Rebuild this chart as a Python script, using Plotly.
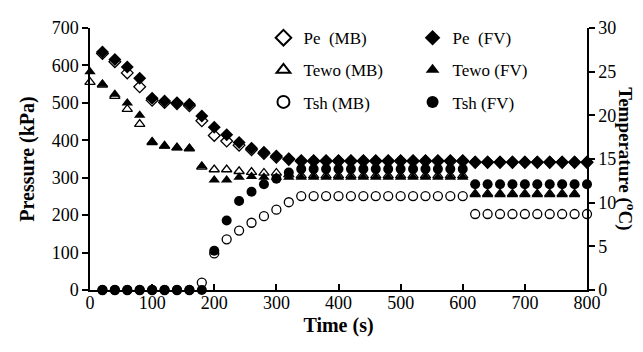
import plotly.graph_objects as go

# ---- data ----
t_from0 = [0, 20, 40, 60, 80, 100, 120, 140, 160, 180, 200, 220, 240, 260, 280, 300, 320, 340, 360, 380,
           400, 420, 440, 460, 480, 500, 520, 540, 560, 580, 600, 620, 640, 660, 680, 700, 720, 740, 760, 780]
t_from20 = [20, 40, 60, 80, 100, 120, 140, 160, 180, 200, 220, 240, 260, 280, 300, 320, 340, 360, 380, 400,
            420, 440, 460, 480, 500, 520, 540, 560, 580, 600, 620, 640, 660, 680, 700, 720, 740, 760, 780, 800]

pe_mb = [632, 610, 580, 543, 507, 501, 498, 492, 452, 413, 398, 387, 375, 365, 355, 349,
         344, 344, 344, 344, 344, 344, 344, 344, 344, 344, 344, 344, 344, 344,
         341, 341, 341, 341, 341, 341, 341, 341, 341, 341]
pe_fv = [636, 616, 596, 566, 512, 505, 500, 496, 465, 435, 415, 394, 379, 368, 358, 351,
         346, 346, 346, 346, 346, 346, 346, 346, 346, 346, 346, 346, 346, 346,
         342, 342, 342, 342, 342, 342, 342, 342, 342, 342]
tewo_mb = [23.8, 23.5, 22.2, 20.7, 19.0, 16.9, 16.5, 16.3, 16.2, 14.1, 13.8, 13.8, 13.6, 13.5, 13.4, 13.4, 13.2,
           13.1, 13.1, 13.1, 13.1, 13.1, 13.1, 13.1, 13.1, 13.1, 13.1, 13.1, 13.1, 13.1, 13.1,
           11.0, 11.0, 11.0, 11.0, 11.0, 11.0, 11.0, 11.0, 11.0]
tewo_fv = [25.0, 23.6, 22.4, 21.4, 20.0, 17.0, 16.5, 16.3, 16.2, 14.2, 12.6, 12.6, 12.9, 13.0, 12.9, 12.9, 12.9,
           12.9, 12.9, 12.9, 12.9, 12.9, 12.9, 12.9, 12.9, 12.9, 12.9, 12.9, 12.9, 12.9, 12.9,
           10.9, 10.9, 10.9, 10.9, 10.9, 10.9, 10.9, 10.9, 10.9]
tsh_mb = [0, 0, 0, 0, 0, 0, 0, 0, 0.85, 4.2, 5.8, 6.8, 7.7, 8.45, 9.2, 10.05,
          10.75, 10.75, 10.75, 10.75, 10.75, 10.75, 10.75, 10.75, 10.75, 10.75, 10.75, 10.75, 10.75, 10.75,
          8.7, 8.7, 8.7, 8.7, 8.7, 8.7, 8.7, 8.7, 8.7, 8.7]
tsh_fv = [0, 0, 0, 0, 0, 0, 0, 0, 0, 4.5, 7.95, 10.2, 11.25, 12.1, 12.75, 13.45,
          13.85, 13.85, 13.85, 13.85, 13.85, 13.85, 13.85, 13.85, 13.85, 13.85, 13.85, 13.85, 13.85, 13.85,
          12.1, 12.1, 12.1, 12.1, 12.1, 12.1, 12.1, 12.1, 12.1, 12.1]

x_ticks = [0, 100, 200, 300, 400, 500, 600, 700, 800]
p_ticks = [0, 100, 200, 300, 400, 500, 600, 700]
t_ticks = [0, 5, 10, 15, 20, 25, 30]

FONT = "'Liberation Serif', 'Times New Roman', serif"
BLACK = "black"

fig = go.Figure()

def add(name, x, y, symbol, size, yaxis, legend, open_=False):
    marker = dict(symbol=symbol, size=size, color=BLACK if not open_ else "white",
                  line=dict(color=BLACK, width=1.3 if open_ else 0))
    fig.add_trace(go.Scatter(x=x, y=y, name=name, mode="markers", marker=marker,
                             yaxis=yaxis, legend=legend, legendgroup=name,
                             cliponaxis=False))

add("Pe  (MB)", t_from20, pe_mb, "diamond", 9, "y", "legend", open_=True)
add("Pe  (FV)", t_from20, pe_fv, "diamond", 10, "y", "legend2")
add("Tewo (MB)", t_from0, tewo_mb, "triangle-up", 9, "y2", "legend", open_=True)
add("Tewo (FV)", t_from0, tewo_fv, "triangle-up", 10, "y2", "legend2")
add("Tsh (MB)", t_from20, tsh_mb, "circle", 9, "y2", "legend", open_=True)
add("Tsh (FV)", t_from20, tsh_fv, "circle", 10, "y2", "legend2")

axis_common = dict(showline=True, linecolor=BLACK, linewidth=1.5, showgrid=False, zeroline=False,
                   tickcolor=BLACK, tickwidth=1.5, tickfont=dict(family=FONT, size=18, color=BLACK))

leg_common = dict(font=dict(family=FONT, size=17, color=BLACK), bgcolor="rgba(0,0,0,0)",
                  yanchor="top", xanchor="left", tracegroupgap=7, itemsizing="constant")

fig.update_layout(
    width=643, height=352,
    margin=dict(l=82, r=64, t=10, b=70),
    paper_bgcolor="white", plot_bgcolor="white",
    font=dict(family=FONT, color=BLACK),
    xaxis=dict(range=[0, 800], tickvals=x_ticks, ticks="inside", ticklen=6,
               ticklabelstandoff=-4,
               title=dict(text="<b>Time (s)</b>", font=dict(family=FONT, size=20, color=BLACK), standoff=6),
               **axis_common),
    yaxis=dict(range=[0, 700], tickvals=p_ticks, ticks="outside", ticklen=6,
               title=dict(text="<b>Pressure (kPa)</b>", font=dict(family=FONT, size=20, color=BLACK), standoff=12),
               **axis_common),
    yaxis2=dict(range=[0, 30], tickvals=t_ticks, ticks="outside", ticklen=6, overlaying="y", side="right",
                **axis_common),
    legend=dict(x=0.349, y=1.03, **leg_common),
    legend2=dict(x=0.649, y=1.03, **leg_common),
    annotations=[dict(text="<b>Temperature (<sup>o</sup>C)</b>", textangle=90, showarrow=False,
                      xref="paper", yref="paper", x=1.08, y=0.5, xanchor="center", yanchor="middle",
                      font=dict(family=FONT, size=19, color=BLACK))],
)

fig.write_html("out.html")
